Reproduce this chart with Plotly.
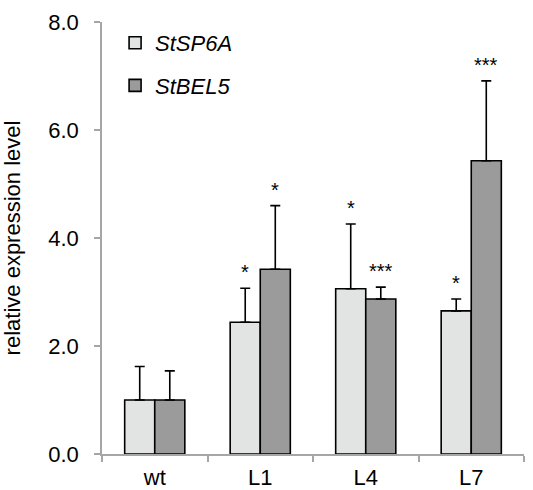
import plotly.graph_objects as go

categories = ["wt", "L1", "L4", "L7"]
sp6a_values = [1.00, 2.44, 3.06, 2.65]
sp6a_errors = [0.62, 0.63, 1.20, 0.22]
bel5_values = [1.00, 3.42, 2.87, 5.43]
bel5_errors = [0.54, 1.18, 0.22, 1.48]
sp6a_marks = ["", "*", "*", "*"]
bel5_marks = ["", "*", "***", "***"]
yticks = [0, 2, 4, 6, 8]

FONT = "Liberation Sans, Arial, sans-serif"
LIGHT = "#E2E3E3"
DARK = "#9A9B9A"
AXIS = "#A6A6A6"

fig = go.Figure()
fig.add_trace(go.Bar(
    name="<i>StSP6A</i>", x=categories, y=sp6a_values, legendgroup="a",
    marker=dict(color=LIGHT, line=dict(color="black", width=1.6)),
    error_y=dict(type="data", array=sp6a_errors, arrayminus=[0]*4, symmetric=False,
                 color="black", thickness=1.6, width=5),
))
fig.add_trace(go.Bar(
    name="<i>StBEL5</i>", x=categories, y=bel5_values, legendgroup="b",
    marker=dict(color=DARK, line=dict(color="black", width=1.6)),
    error_y=dict(type="data", array=bel5_errors, arrayminus=[0]*4, symmetric=False,
                 color="black", thickness=1.6, width=5),
))

off = 0.142
annotations = []
for i in range(len(categories)):
    for vals, errs, marks, sgn in ((sp6a_values, sp6a_errors, sp6a_marks, -1),
                                   (bel5_values, bel5_errors, bel5_marks, 1)):
        if marks[i]:
            annotations.append(dict(
                x=i + sgn * off, y=vals[i] + errs[i], xref="x", yref="y",
                text=marks[i], showarrow=False, yanchor="bottom", yshift=3,
                font=dict(family=FONT, size=20, color="black")))

fig.update_layout(
    width=533, height=490,
    margin=dict(l=102, r=9, t=22, b=36, autoexpand=False),
    paper_bgcolor="white", plot_bgcolor="white",
    barmode="group", bargap=0.43, bargroupgap=0,
    font=dict(family=FONT, size=22, color="black"),
    showlegend=True,
    legend=dict(x=0.031, y=1.0, xanchor="left", yanchor="top",
                traceorder="grouped", tracegroupgap=11,
                font=dict(family=FONT, size=22, color="black"),
                bgcolor="rgba(0,0,0,0)"),
    annotations=annotations,
)
fig.update_xaxes(showline=True, linecolor=AXIS, linewidth=1.5, automargin=False,
                 ticks="outside", tickson="boundaries", ticklen=6, tickcolor=AXIS,
                 tickwidth=1.5, showgrid=False, ticklabelstandoff=3,
                 tickfont=dict(family=FONT, size=22, color="black"))
fig.update_yaxes(range=[0, 8], tickvals=yticks, tickformat=".1f", automargin=False,
                 showline=True, linecolor=AXIS, linewidth=1.5,
                 ticks="outside", ticklen=6, tickcolor=AXIS, tickwidth=1.5,
                 showgrid=False, zeroline=False, ticklabelstandoff=11,
                 tickfont=dict(family=FONT, size=22, color="black"),
                 title=dict(text="relative expression level", standoff=22,
                            font=dict(family=FONT, size=22, color="black")))

fig.write_html("out.html")
